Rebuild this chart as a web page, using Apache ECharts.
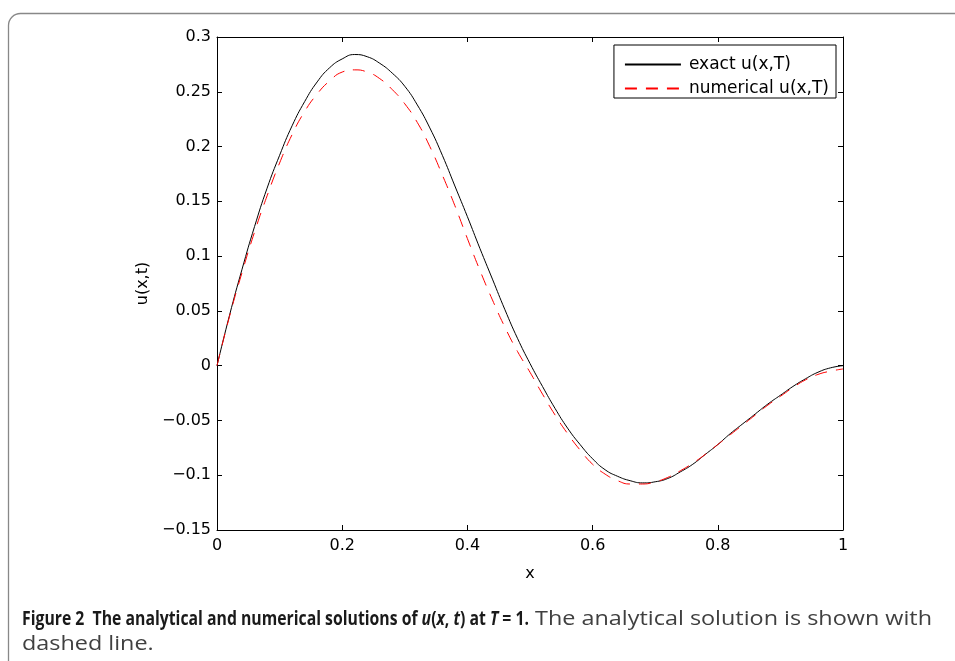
<!DOCTYPE html>
<html>
<head>
<meta charset="utf-8">
<script src="https://cdn.jsdelivr.net/npm/echarts@6/dist/echarts.min.js"></script>
<style>html,body{margin:0;padding:0;background:#fff}#c{width:955px;height:661px}</style>
</head>
<body>
<div id="c"></div>
<script>
var xs = [0,0.02,0.04,0.06,0.08,0.10,0.12,0.14,0.16,0.18,0.20,0.22,0.24,0.26,0.28,0.30,0.32,0.34,0.36,0.38,0.40,0.42,0.44,0.46,0.48,0.50,0.52,0.54,0.56,0.58,0.60,0.62,0.64,0.66,0.68,0.70,0.72,0.74,0.76,0.78,0.80,0.82,0.84,0.86,0.88,0.90,0.92,0.94,0.96,0.98,1.0];
var exactU = [0,0.046,0.088,0.127,0.162,0.192,0.219,0.241,0.259,0.272,0.280,0.284,0.282,0.276,0.267,0.255,0.238,0.217,0.192,0.164,0.136,0.107,0.079,0.051,0.025,0.002,-0.019,-0.039,-0.057,-0.072,-0.085,-0.095,-0.101,-0.105,-0.107,-0.106,-0.103,-0.097,-0.090,-0.081,-0.072,-0.062,-0.053,-0.044,-0.035,-0.027,-0.019,-0.012,-0.006,-0.002,0];
var numericalU = [0,0.045,0.085,0.122,0.155,0.185,0.211,0.232,0.248,0.260,0.268,0.270,0.268,0.262,0.252,0.239,0.222,0.200,0.174,0.146,0.116,0.087,0.060,0.035,0.013,-0.006,-0.026,-0.045,-0.062,-0.077,-0.090,-0.099,-0.105,-0.108,-0.108,-0.106,-0.102,-0.096,-0.089,-0.081,-0.072,-0.063,-0.054,-0.045,-0.036,-0.028,-0.020,-0.013,-0.008,-0.005,-0.003];
var seriesNames = ['exact u(x,T)', 'numerical u(x,T)'];
var xTicks = {min: 0, max: 1, interval: 0.2};
var yTicks = {min: -0.15, max: 0.3, interval: 0.05};

function pairs(ys){ return xs.map(function(x,i){ return [x, ys[i]]; }); }
function fmt(v){
  var s = (Math.round(v*1000)/1000).toString();
  return s.replace('-', '\u2212');
}
var font = 'DejaVu Sans';
var capFont = 'Open Sans';
var capSize = 20;
var capRegSize = 19.5;

var capBold = [
  ['Figure 2  The analytical and numerical solutions of ', 'b'],
  ['u', 'bi'], ['(', 'b'], ['x', 'bi'], [', ', 'b'], ['t', 'bi'], [') at ', 'b'], ['T', 'bi'], [' = 1.', 'b']
];
var capReg1 = ' The analytical solution is shown with';
var capReg2 = 'dashed line.';
var styleFont = {
  b: 'bold ' + capSize + 'px "' + capFont + '"',
  bi: 'italic bold ' + capSize + 'px "' + capFont + '"',
  r: capRegSize + 'px "' + capFont + '"'
};
var ctx = document.createElement('canvas').getContext('2d');
var wb = 0;
capBold.forEach(function(s){ ctx.font = styleFont[s[1]]; wb += ctx.measureText(s[0]).width; });
ctx.font = styleFont.r;
var wr = ctx.measureText(capReg1).width;
var capLeft = 22, capBoldEnd = 529, capRight = 932;
var sb = (capBoldEnd - capLeft) / wb;
var sr = (capRight - capBoldEnd) / wr;
var boldText = capBold.map(function(s){ return '{' + s[1] + '|' + s[0] + '}'; }).join('');

var richStyles = {
  b: {fontFamily: capFont, fontWeight: 'bold', fontSize: capSize, fill: '#1a1a1a', lineHeight: 25},
  bi: {fontFamily: capFont, fontWeight: 'bold', fontStyle: 'italic', fontSize: capSize, fill: '#1a1a1a', lineHeight: 25},
  r: {fontFamily: capFont, fontSize: capRegSize, fill: '#404040', lineHeight: 25}
};

var axisCommon = {
  axisLine: {show: true, onZero: false, lineStyle: {color: '#000', width: 1}},
  axisTick: {show: true, inside: true, length: 5, lineStyle: {color: '#000'}},
  splitLine: {show: false}
};
var chart = echarts.init(document.getElementById('c'), null, {renderer: 'canvas'});
chart.setOption({
  animation: false,
  backgroundColor: '#fff',
  grid: {left: 217, right: 112, top: 37, bottom: 131, containLabel: false},
  graphic: [
    {type: 'rect', shape: {x: 8.5, y: 13.5, width: 1000, height: 700, r: 12}, style: {fill: 'none', stroke: '#888', lineWidth: 1.3}, silent: true},
    {type: 'text', x: capLeft, y: 607, scaleX: sb, style: {text: boldText, rich: richStyles}},
    {type: 'text', x: capBoldEnd, y: 607, scaleX: sr, style: {text: '{r|' + capReg1 + '}', rich: richStyles}},
    {type: 'text', x: capLeft, y: 632, scaleX: sr, style: {text: '{r|' + capReg2 + '}', rich: richStyles}}
  ],
  legend: {
    right: 119, top: 45, orient: 'vertical',
    data: seriesNames,
    itemWidth: 56, itemHeight: 14, itemGap: 5,
    itemStyle: {opacity: 0},
    backgroundColor: '#fff', borderColor: '#000', borderWidth: 1,
    padding: [10, 7, 0, 10],
    textStyle: {fontFamily: font, fontSize: 17, color: '#000', lineHeight: 19, padding: [0,0,0,3]}
  },
  xAxis: [
    Object.assign({type: 'value', position: 'bottom', min: xTicks.min, max: xTicks.max, interval: xTicks.interval,
      name: 'x', nameLocation: 'middle', nameGap: 36,
      nameTextStyle: {fontFamily: font, fontSize: 16, color: '#000'},
      axisLabel: {fontFamily: font, fontSize: 16, color: '#000', margin: 8, formatter: fmt}}, axisCommon),
    Object.assign({type: 'value', position: 'top', min: xTicks.min, max: xTicks.max, interval: xTicks.interval,
      axisLabel: {show: false}}, axisCommon)
  ],
  yAxis: [
    Object.assign({type: 'value', position: 'left', min: yTicks.min, max: yTicks.max, interval: yTicks.interval,
      name: 'u(x,t)', nameLocation: 'middle', nameGap: 62, nameRotate: 90,
      nameTextStyle: {fontFamily: font, fontSize: 16, color: '#000'},
      axisLabel: {fontFamily: font, fontSize: 16, color: '#000', margin: 6, formatter: fmt}}, axisCommon),
    Object.assign({type: 'value', position: 'right', min: yTicks.min, max: yTicks.max, interval: yTicks.interval,
      axisLabel: {show: false}}, axisCommon)
  ],
  series: [
    {name: seriesNames[0], type: 'line', data: pairs(exactU), smooth: 0.5, symbol: 'none', xAxisIndex: 0, yAxisIndex: 0,
      lineStyle: {color: '#000', width: 1}, itemStyle: {color: '#000'}},
    {name: seriesNames[1], type: 'line', data: pairs(numericalU), smooth: 0.5, symbol: 'none', xAxisIndex: 0, yAxisIndex: 0,
      lineStyle: {color: '#ff0000', width: 1, type: [12, 9]}, itemStyle: {color: '#ff0000'}}
  ]
});
</script>
</body>
</html>
